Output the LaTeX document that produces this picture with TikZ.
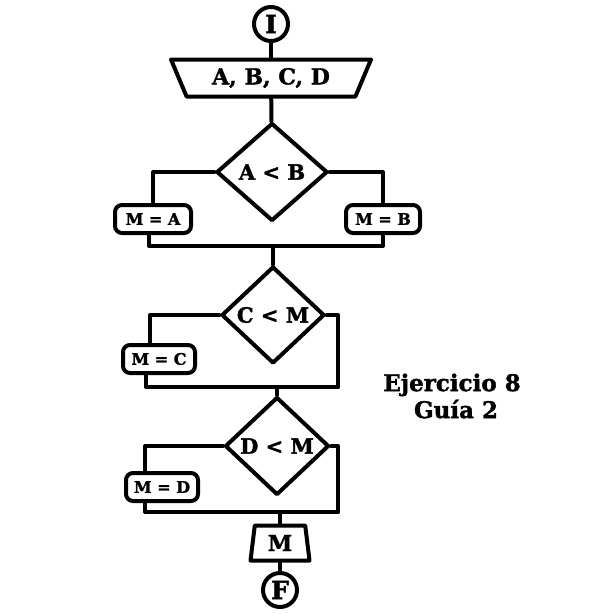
\documentclass[tikz,border=0pt]{standalone}
\usepackage{fontspec}
\setmainfont{DejaVu Serif}[BoldFeatures={FakeBold=1.6}]
\usetikzlibrary{shapes.geometric, calc}

\begin{document}
\begin{tikzpicture}[x=1pt, y=-1pt, line cap=round, line join=round,
	every node/.style={font=\bfseries},
	flow/.style={line width=4pt},
	term/.style={circle, draw, line width=4pt, minimum size=34pt, inner sep=0pt, font=\fontsize{25}{27}\bfseries},
	decide/.style={diamond, draw, line width=4pt, inner sep=0pt, font=\fontsize{21}{23}\bfseries},
	assign/.style={rectangle, rounded corners=7pt, draw, line width=4pt, inner sep=0pt, minimum height=28pt, font=\fontsize{16}{18}\bfseries}]

\useasboundingbox (0,0) rectangle (616,616);

%========================
% start and data
%========================
\node[term] (start) at (271,24) {I};
\node[trapezium, shape border rotate=180, trapezium left angle=52, trapezium right angle=52,
	trapezium stretches body=true, draw, line width=4pt, minimum width=200pt, minimum height=37pt,
	inner sep=0pt, font=\fontsize{22}{24}\bfseries] (inp) at (271,78) {A, B, C, D};

%========================
% first decision: M = min(A,B)
%========================
\node[decide, minimum width=111pt, minimum height=98pt] (d1) at (272,172) {A < B};
\node[assign, minimum width=76pt] (mA) at (153,219) {M = A};
\node[assign, minimum width=74pt] (mB) at (383,219) {M = B};
\coordinate (j1) at (273,246);

%========================
% second decision: C < M
%========================
\node[decide, minimum width=103pt, minimum height=97pt] (d2) at (273,315) {C < M};
\node[assign, minimum width=72pt] (mC) at (159,359) {M = C};
\coordinate (l2) at (146,387);
\coordinate (r2) at (338,387);
\coordinate (j2) at (277,387);

%========================
% third decision: D < M
%========================
\node[decide, minimum width=104pt, minimum height=98pt] (d3) at (277,446) {D < M};
\node[assign, minimum width=72pt] (mD) at (162,487) {M = D};
\coordinate (l3) at (145,512);
\coordinate (r3) at (338,512);
\coordinate (j3) at (280,512);

%========================
% output and end
%========================
\node[trapezium, trapezium left angle=75, trapezium right angle=75, trapezium stretches body=true,
	draw, line width=4pt, minimum width=59pt, minimum height=35pt, inner sep=0pt,
	font=\fontsize{22}{24}\bfseries] (outp) at (280,543) {M};
\node[term] (stop) at (280,590) {F};

% title
\node[font=\fontsize{23}{27}\bfseries, align=center] (title) at (452,396) {Ejercicio 8\\\ Guía 2};

%========================
% connectors
%========================
\draw[flow] (start) -- (inp);
\draw[flow] (inp) -- (d1);
\draw[flow] (d1.west) -| (mA.north);
\draw[flow] (d1.east) -| (mB.north);
\draw[flow] ([xshift=-4pt]mA.south) |- (j1);
\draw[flow] (mB.south) |- (j1);
\draw[flow] (j1) -- (d2.north);

\draw[flow] (d2.west) -| ([xshift=-9pt]mC.north);
\draw[flow] (mC.south -| l2) -- (l2) -- (r2);
\draw[flow] (d2.east) -| (r2);
\draw[flow] (j2) -- (d3.north);

\draw[flow] (d3.west) -| (mD.north -| l3);
\draw[flow] (mD.south -| l3) -- (l3) -- (r3);
\draw[flow] (d3.east) -| (r3);
\draw[flow] (j3) -- (outp);
\draw[flow] (outp) -- (stop);

\end{tikzpicture}
\end{document}
